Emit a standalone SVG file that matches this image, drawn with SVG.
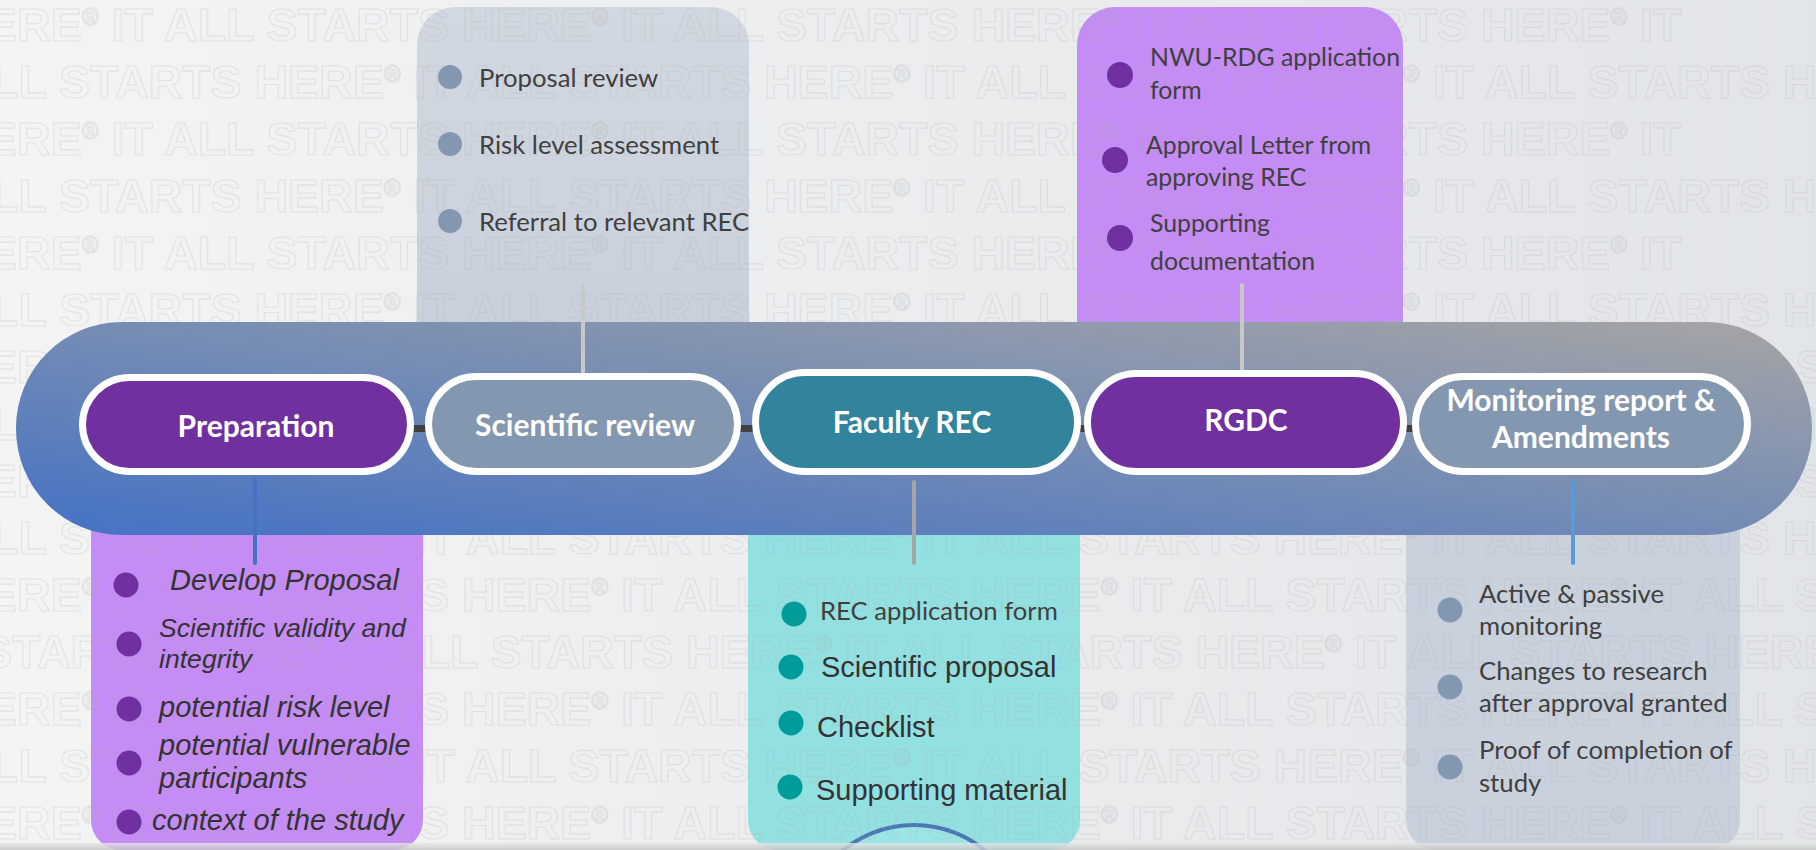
<svg xmlns="http://www.w3.org/2000/svg" width="1816" height="850" viewBox="0 0 1816 850">
<defs>
<linearGradient id="bg" x1="0" y1="0" x2="1" y2="0">
<stop offset="0" stop-color="#f4f4f4"/><stop offset="1" stop-color="#e2e5e8"/>
</linearGradient>
<linearGradient id="band" x1="0" y1="0" x2="0" y2="1">
<stop offset="0" stop-color="#e6e6e6"/><stop offset="1" stop-color="#c4c4c4"/>
</linearGradient>
<linearGradient id="pill" x1="0" y1="1" x2="1" y2="0">
<stop offset="0" stop-color="#4472c4"/><stop offset="1" stop-color="#a5a5a5"/>
</linearGradient>
<linearGradient id="grayBox" x1="0" y1="0" x2="0" y2="1">
<stop offset="0" stop-color="#d2d8e1"/><stop offset="1" stop-color="#c8d0dc"/>
</linearGradient>
<style>
.wm{font-family:"Liberation Sans",Arial,sans-serif;font-weight:bold;font-size:46.5px;fill:none;stroke:#b0b0b0;stroke-width:1.1;opacity:.24}
.r{font-size:23px;baseline-shift:16px}
.stage{stroke:#fff;stroke-width:7}
.lbl{font-family:Lato,"Open Sans",sans-serif;font-weight:bold;font-size:30px;fill:#fff;text-anchor:middle}
.cal{font-family:Lato,"Open Sans",sans-serif;font-size:25.7px;fill:#404040}
.cal2{font-family:Lato,"Open Sans",sans-serif;font-size:24.8px;fill:#404040}
.ari{font-family:"Liberation Sans",Arial,sans-serif;font-size:29px;fill:#333}
.ita{font-family:"Liberation Sans",Arial,sans-serif;font-style:italic;font-size:29px;fill:#333}
.ita2{font-family:"Liberation Sans",Arial,sans-serif;font-style:italic;font-size:26.6px;fill:#333}
.bGray{fill:#8497b0}
.bPur{fill:#7030a0}
.bTeal{fill:#009c9a}
.link{stroke-width:4;stroke-linecap:round;fill:none}
.tie{fill:#404040}
</style>
</defs>

<rect x="0" y="0" width="1816" height="850" fill="url(#bg)"/>

<!-- boxes behind the main band -->
<g id="box-scientific-review">
<path d="M417,45 A38,38 0 0 1 455,7 L711,7 A38,38 0 0 1 749,45 L749,340 L417,340 Z" fill="url(#grayBox)"/>
</g>
<g id="box-rgdc">
<path d="M1077,45 A38,38 0 0 1 1115,7 L1365,7 A38,38 0 0 1 1403,45 L1403,340 L1077,340 Z" fill="#c48cf4"/>
</g>
<g id="box-preparation">
<path d="M91,500 L423,500 L423,820 A30,30 0 0 1 393,850 L121,850 A30,30 0 0 1 91,820 Z" fill="#c48cf4"/>
</g>
<g id="box-faculty-rec">
<path d="M748,500 L1080,500 L1080,820 A30,30 0 0 1 1050,850 L778,850 A30,30 0 0 1 748,820 Z" fill="#93e0e1"/>
<circle cx="914" cy="937" r="112" fill="#9ce5e5" stroke="#4a78b5" stroke-width="4"/>
</g>
<g id="box-monitoring">
<path d="M1406,500 L1740,500 L1740,820 A30,30 0 0 1 1710,850 L1436,850 A30,30 0 0 1 1406,820 Z" fill="#c9d1dd"/>
</g>

<!-- watermark -->
<g id="watermark">
<text class="wm" x="-398" y="41">IT ALL STARTS HERE<tspan class="r">®</tspan> IT ALL STARTS HERE<tspan class="r">®</tspan> IT ALL STARTS HERE<tspan class="r">®</tspan> IT ALL STARTS HERE<tspan class="r">®</tspan> IT</text>
<text class="wm" x="-96" y="98">IT ALL STARTS HERE<tspan class="r">®</tspan> IT ALL STARTS HERE<tspan class="r">®</tspan> IT ALL STARTS HERE<tspan class="r">®</tspan> IT ALL STARTS HERE<tspan class="r">®</tspan> IT ALL STARTS HERE<tspan class="r">®</tspan></text>
<text class="wm" x="-398" y="155">IT ALL STARTS HERE<tspan class="r">®</tspan> IT ALL STARTS HERE<tspan class="r">®</tspan> IT ALL STARTS HERE<tspan class="r">®</tspan> IT ALL STARTS HERE<tspan class="r">®</tspan> IT</text>
<text class="wm" x="-96" y="212">IT ALL STARTS HERE<tspan class="r">®</tspan> IT ALL STARTS HERE<tspan class="r">®</tspan> IT ALL STARTS HERE<tspan class="r">®</tspan> IT ALL STARTS HERE<tspan class="r">®</tspan> IT ALL STARTS HERE<tspan class="r">®</tspan></text>
<text class="wm" x="-398" y="269">IT ALL STARTS HERE<tspan class="r">®</tspan> IT ALL STARTS HERE<tspan class="r">®</tspan> IT ALL STARTS HERE<tspan class="r">®</tspan> IT ALL STARTS HERE<tspan class="r">®</tspan> IT</text>
<text class="wm" x="-96" y="326">IT ALL STARTS HERE<tspan class="r">®</tspan> IT ALL STARTS HERE<tspan class="r">®</tspan> IT ALL STARTS HERE<tspan class="r">®</tspan> IT ALL STARTS HERE<tspan class="r">®</tspan> IT ALL STARTS HERE<tspan class="r">®</tspan></text>
<text class="wm" x="-398" y="383">IT ALL STARTS HERE<tspan class="r">®</tspan> IT ALL STARTS HERE<tspan class="r">®</tspan> IT ALL STARTS HERE<tspan class="r">®</tspan> IT ALL STARTS HERE<tspan class="r">®</tspan> IT ALL STARTS HERE<tspan class="r">®</tspan></text>
<text class="wm" x="-96" y="440">IT ALL STARTS HERE<tspan class="r">®</tspan> IT ALL STARTS HERE<tspan class="r">®</tspan> IT ALL STARTS HERE<tspan class="r">®</tspan> IT ALL STARTS HERE<tspan class="r">®</tspan> IT ALL STARTS HERE<tspan class="r">®</tspan></text>
<text class="wm" x="-398" y="497">IT ALL STARTS HERE<tspan class="r">®</tspan> IT ALL STARTS HERE<tspan class="r">®</tspan> IT ALL STARTS HERE<tspan class="r">®</tspan> IT ALL STARTS HERE<tspan class="r">®</tspan> IT ALL STARTS HERE<tspan class="r">®</tspan></text>
<text class="wm" x="-96" y="554">IT ALL STARTS HERE<tspan class="r">®</tspan> IT ALL STARTS HERE<tspan class="r">®</tspan> IT ALL STARTS HERE<tspan class="r">®</tspan> IT ALL STARTS HERE<tspan class="r">®</tspan> IT ALL STARTS HERE<tspan class="r">®</tspan></text>
<text class="wm" x="-398" y="611">IT ALL STARTS HERE<tspan class="r">®</tspan> IT ALL STARTS HERE<tspan class="r">®</tspan> IT ALL STARTS HERE<tspan class="r">®</tspan> IT ALL STARTS HERE<tspan class="r">®</tspan> IT ALL STARTS HERE<tspan class="r">®</tspan></text>
<text class="wm" x="-174" y="668">IT ALL STARTS HERE<tspan class="r">®</tspan> IT ALL STARTS HERE<tspan class="r">®</tspan> IT ALL STARTS HERE<tspan class="r">®</tspan> IT ALL STARTS HERE<tspan class="r">®</tspan> IT ALL STARTS HERE<tspan class="r">®</tspan></text>
<text class="wm" x="-398" y="725">IT ALL STARTS HERE<tspan class="r">®</tspan> IT ALL STARTS HERE<tspan class="r">®</tspan> IT ALL STARTS HERE<tspan class="r">®</tspan> IT ALL STARTS HERE<tspan class="r">®</tspan> IT ALL STARTS HERE<tspan class="r">®</tspan></text>
<text class="wm" x="-96" y="782">IT ALL STARTS HERE<tspan class="r">®</tspan> IT ALL STARTS HERE<tspan class="r">®</tspan> IT ALL STARTS HERE<tspan class="r">®</tspan> IT ALL STARTS HERE<tspan class="r">®</tspan> IT ALL STARTS HERE<tspan class="r">®</tspan></text>
<text class="wm" x="-398" y="839">IT ALL STARTS HERE<tspan class="r">®</tspan> IT ALL STARTS HERE<tspan class="r">®</tspan> IT ALL STARTS HERE<tspan class="r">®</tspan> IT ALL STARTS HERE<tspan class="r">®</tspan> IT ALL STARTS HERE<tspan class="r">®</tspan></text>
</g>

<rect x="0" y="843" width="1816" height="7" fill="url(#band)" opacity="0.8"/>

<!-- main band -->
<g id="timeline-band">
<rect x="16" y="322" width="1796" height="213" rx="106" ry="106" fill="url(#pill)"/>
</g>

<!-- box contents -->
<g id="box-scientific-review-text">
<circle class="bGray" cx="450" cy="77" r="12"/>
<text class="cal" x="479" y="87">Proposal review</text>
<circle class="bGray" cx="450" cy="144" r="12"/>
<text class="cal" x="479" y="154">Risk level assessment</text>
<circle class="bGray" cx="450" cy="221" r="12"/>
<text class="cal" x="479" y="231">Referral to relevant REC</text>
</g>
<g id="box-rgdc-text">
<circle class="bPur" cx="1120" cy="75" r="13"/>
<text class="cal2" x="1150" y="66">NWU-RDG application</text>
<text class="cal2" x="1150" y="99">form</text>
<circle class="bPur" cx="1115" cy="160" r="13"/>
<text class="cal2" x="1146" y="154">Approval Letter from</text>
<text class="cal2" x="1146" y="186">approving REC</text>
<circle class="bPur" cx="1120" cy="238" r="13"/>
<text class="cal2" x="1150" y="232">Supporting</text>
<text class="cal2" x="1150" y="270">documentation</text>
</g>
<g id="box-preparation-text">
<circle class="bPur" cx="126" cy="585" r="12.5"/>
<text class="ita" x="170" y="590">Develop Proposal</text>
<circle class="bPur" cx="129" cy="644" r="12.5"/>
<text class="ita2" x="159" y="637">Scientific validity and</text>
<text class="ita2" x="159" y="668">integrity</text>
<circle class="bPur" cx="129" cy="709" r="12.5"/>
<text class="ita" x="159" y="717">potential risk level</text>
<circle class="bPur" cx="129" cy="763" r="12.5"/>
<text class="ita" x="159" y="755">potential vulnerable</text>
<text class="ita" x="159" y="788">participants</text>
<circle class="bPur" cx="129" cy="822" r="12.5"/>
<text class="ita" x="152" y="830">context of the study</text>
</g>
<g id="box-faculty-rec-text">
<circle class="bTeal" cx="794" cy="614" r="12.5"/>
<text class="cal" x="820" y="620">REC application form</text>
<circle class="bTeal" cx="791" cy="667" r="12.5"/>
<text class="ari" x="821" y="677">Scientific proposal</text>
<circle class="bTeal" cx="791" cy="723" r="12.5"/>
<text class="ari" x="817" y="737">Checklist</text>
<circle class="bTeal" cx="790" cy="787" r="12.5"/>
<text class="ari" x="816" y="800">Supporting material</text>
</g>
<g id="box-monitoring-text">
<circle class="bGray" cx="1450" cy="610" r="12.5"/>
<text class="cal" x="1479" y="603">Active &amp; passive</text>
<text class="cal" x="1479" y="635">monitoring</text>
<circle class="bGray" cx="1450" cy="687" r="12.5"/>
<text class="cal" x="1479" y="680">Changes to research</text>
<text class="cal" x="1479" y="712">after approval granted</text>
<circle class="bGray" cx="1450" cy="767" r="12.5"/>
<text class="cal" x="1479" y="759">Proof of completion of</text>
<text class="cal" x="1479" y="792">study</text>
</g>

<!-- connectors -->
<g id="connectors">
<line class="link" x1="583" y1="285" x2="583" y2="374" stroke="#c8c8c8"/>
<line class="link" x1="1242" y1="285" x2="1242" y2="371" stroke="#c8c8c8"/>
<line class="link" x1="255" y1="480" x2="255" y2="563" stroke="#4472c4"/>
<line class="link" x1="914" y1="482" x2="914" y2="563" stroke="#a6a6a6" stroke-width="5"/>
<line class="link" x1="1573" y1="482" x2="1573" y2="563" stroke="#5b9bd5"/>
<rect class="tie" x="412" y="425" width="15" height="7"/>
<rect class="tie" x="739" y="425" width="15" height="7"/>
<rect class="tie" x="1079" y="425" width="7" height="7"/>
<rect class="tie" x="1405" y="425" width="9" height="7"/>
</g>

<!-- stage nodes -->
<g id="stage-preparation">
<rect class="stage" x="82.5" y="377.5" width="328" height="94" rx="47" fill="#7030a0"/>
<text class="lbl" x="256" y="437">Preparation</text>
</g>
<g id="stage-scientific-review">
<rect class="stage" x="428.5" y="376.5" width="309" height="95" rx="47.5" fill="#8497b0"/>
<text class="lbl" x="585" y="436">Scientific review</text>
</g>
<g id="stage-faculty-rec">
<rect class="stage" x="755.5" y="372.5" width="322" height="99" rx="49.5" fill="#31849b"/>
<text class="lbl" x="912" y="433">Faculty REC</text>
</g>
<g id="stage-rgdc">
<rect class="stage" x="1087.5" y="373.5" width="316" height="98" rx="49" fill="#7030a0"/>
<text class="lbl" x="1246" y="431">RGDC</text>
</g>
<g id="stage-monitoring">
<rect class="stage" x="1415.5" y="376.5" width="332" height="95" rx="47.5" fill="#8497b0"/>
<text class="lbl" x="1581" y="411">Monitoring report &amp;</text>
<text class="lbl" x="1581" y="448">Amendments</text>
</g>
</svg>
